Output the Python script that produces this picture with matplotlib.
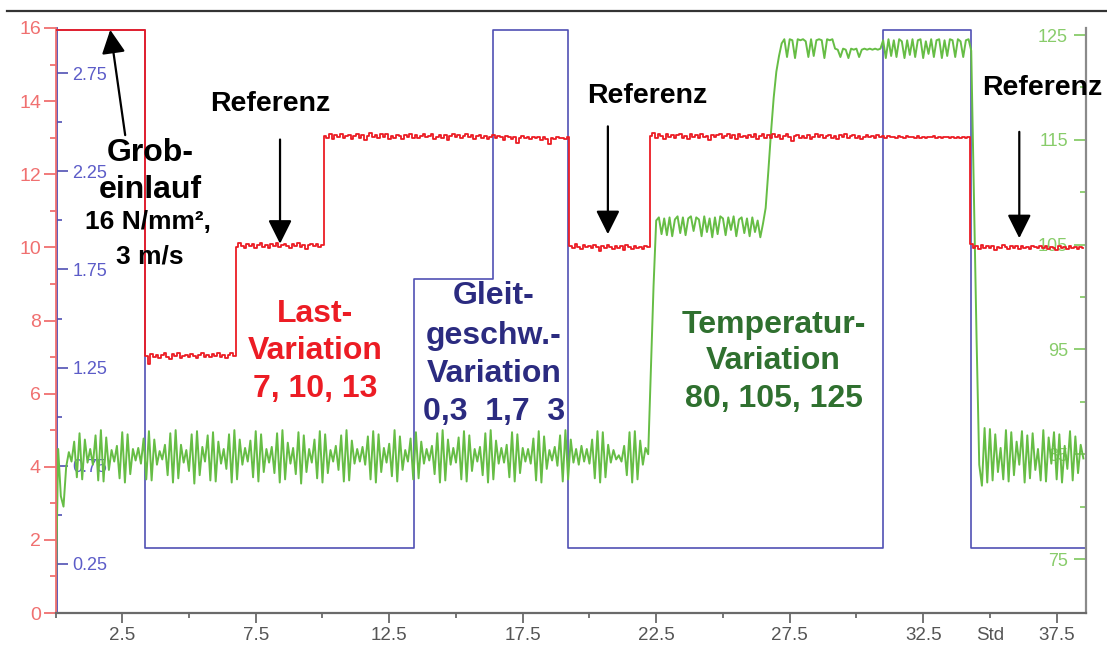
import numpy as np
import matplotlib
matplotlib.use("Agg")
import matplotlib.pyplot as plt
from matplotlib.lines import Line2D

# ---------------- data (time in hours, "Std") ----------------
# Load (red, left axis, N/mm²), sampled every 0.1 h from 0.0 to 38.5 h
load_step = 0.1
load_v = [
    15.95, 15.95, 15.95, 15.95, 15.95, 15.95, 15.95, 15.95, 15.95, 15.95,
    15.95, 15.95, 15.95, 15.95, 15.95, 15.95, 15.95, 15.95, 15.95, 15.95,
    15.95, 15.95, 15.95, 15.95, 15.95, 15.95, 15.95, 15.95, 15.95, 15.95,
    15.95, 15.95, 15.95, 15.95, 7.02, 6.82, 7.08, 7.0, 7.06, 6.98,
    7.05, 7.1, 7.0, 6.96, 7.08, 7.03, 7.11, 6.98, 7.04, 7.07,
    7.0, 7.09, 7.03, 6.97, 7.06, 7.1, 7.01, 7.05, 6.99, 7.08,
    7.04, 7.1, 7.0, 7.07, 6.98, 7.05, 7.12, 7.03, 10.02, 10.12,
    10.05, 9.98, 10.1, 10.04, 10.08, 9.99, 10.06, 10.13, 10.02, 10.07,
    9.97, 10.08, 10.05, 10.12, 10.0, 10.06, 10.1, 10.03, 9.98, 10.09,
    10.05, 10.11, 10.02, 10.07, 9.96, 10.06, 10.1, 10.04, 10.08, 10.0,
    10.06, 13.05, 13.0, 13.1, 12.96, 13.06, 13.02, 13.11, 12.98, 13.05,
    13.08, 12.97, 13.04, 13.1, 13.0, 13.07, 12.95, 13.05, 13.12, 13.01,
    13.06, 12.98, 13.09, 13.03, 13.1, 12.97, 13.05, 13.0, 13.08, 13.04,
    12.96, 13.07, 13.02, 13.11, 13.0, 13.06, 12.98, 13.04, 13.09, 13.01,
    13.05, 13.1, 12.97, 13.03, 13.08, 13.0, 13.06, 12.95, 13.04, 13.1,
    13.02, 13.07, 12.99, 13.05, 13.11, 13.01, 13.06, 12.97, 13.04, 13.08,
    13.0, 13.05, 12.96, 13.03, 13.08, 12.99, 13.04, 13.02, 12.94, 13.05,
    13.01, 12.97, 13.03, 12.85, 13.0, 13.04, 12.98, 13.02, 12.96, 13.03,
    12.99, 13.02, 12.95, 13.01, 12.97, 12.83, 13.0, 12.96, 13.02, 12.98,
    13.0, 12.97, 13.02, 10.05, 9.98, 10.08, 10.02, 9.95, 10.06, 10.0,
    10.04, 9.97, 10.07, 10.01, 9.9, 10.03, 9.98, 10.06, 10.0, 9.95,
    10.05, 9.99, 10.03, 9.92, 10.06, 10.0, 9.96, 10.04, 9.98, 10.02,
    9.96, 10.05, 10.0, 13.05, 13.12, 13.0, 13.09, 13.04, 12.97, 13.1,
    13.03, 13.08, 12.98, 13.06, 13.11, 13.0, 13.05, 12.96, 13.09, 13.02,
    13.07, 12.99, 13.1, 13.03, 13.05, 12.95, 13.08, 13.01, 13.06, 13.11,
    12.98, 13.04, 13.09, 13.0, 13.06, 12.97, 13.1, 13.02, 13.05, 12.99,
    13.08, 13.03, 13.11, 12.96, 13.05, 13.09, 13.0, 13.06, 12.98, 13.1,
    13.02, 13.07, 12.97, 13.05, 13.1, 13.01, 12.9, 13.04, 13.08, 12.99,
    13.05, 13.0, 13.07, 12.96, 13.03, 13.09, 13.01, 13.06, 12.98, 13.04,
    13.08, 13.0, 13.05, 12.97, 13.06, 13.02, 13.09, 12.98, 13.04, 13.07,
    13.0, 13.05, 12.97, 13.03, 13.08, 13.01, 13.04, 12.99, 13.06, 13.02,
    13.04, 12.98, 13.05, 13.01, 13.03, 12.99, 13.04, 13.02, 13.0, 13.05,
    13.01, 13.03, 12.98, 13.04, 13.0, 13.02, 12.99, 13.03, 13.01, 13.04,
    13.0, 13.02, 12.98, 13.03, 13.01, 12.99, 13.02, 13.0, 13.03, 12.99,
    13.02, 13.0, 13.01, 10.1, 9.98, 10.04, 9.95, 10.06, 9.99, 10.03,
    9.97, 10.05, 9.93, 10.02, 9.98, 10.06, 10.0, 9.96, 10.04, 9.99,
    10.03, 9.95, 10.05, 9.99, 10.02, 9.96, 10.04, 10.0, 9.97, 10.05,
    9.98, 10.03, 9.95, 10.02, 9.99, 9.93, 10.04, 9.97, 10.01, 9.96,
    10.03, 9.97, 10.02, 9.95, 10.0, 9.98,
]
load_t = np.arange(len(load_v)) * load_step

# Sliding speed (blue, inner left axis, m/s): step change points and levels
speed_t = [0.0, 3.35, 13.42, 16.40, 19.20, 30.98, 34.30, 38.58]
speed_v = [2.97, 0.33, 1.70, 2.97, 0.33, 2.97, 0.33, 0.33]

# Temperature (green, right axis, °C), sampled every 0.1 h from 0.0 to 38.5 h
temp_step = 0.1
temp_v = [
    70.0, 85.5, 81.0, 80.0, 83.8, 85.2, 84.3, 86.2, 82.8, 87.0,
    82.6, 86.4, 84.2, 85.5, 84.0, 86.8, 82.5, 87.3, 82.4, 86.6,
    83.5, 85.4, 84.3, 85.8, 82.7, 87.1, 82.3, 86.9, 83.1, 85.5,
    84.4, 85.6, 84.1, 86.5, 82.6, 87.2, 82.5, 86.4, 84.0, 85.3,
    84.5, 85.9, 83.0, 87.0, 82.3, 87.3, 82.7, 85.9, 84.2, 85.4,
    83.4, 86.9, 82.2, 87.2, 83.0, 85.7, 84.3, 86.8, 82.5, 87.1,
    82.4, 86.2, 84.1, 85.5, 83.6, 86.9, 82.3, 87.3, 82.6, 86.4,
    84.0, 85.6, 84.3, 86.3, 82.8, 87.2, 82.4, 86.9, 83.3, 85.5,
    84.2, 85.7, 83.2, 87.0, 82.3, 87.3, 82.6, 86.1, 84.1, 85.6,
    83.1, 87.1, 82.2, 86.8, 83.3, 85.5, 84.2, 86.4, 82.7, 87.2,
    82.3, 86.9, 83.2, 85.4, 84.3, 85.8, 83.5, 86.8, 82.4, 87.3,
    82.5, 86.3, 84.1, 85.5, 84.3, 85.7, 84.0, 86.7, 82.6, 87.2,
    82.3, 86.9, 83.3, 85.6, 84.2, 86.0, 82.9, 87.3, 82.4, 86.7,
    83.5, 85.4, 84.3, 86.5, 82.6, 87.1, 82.7, 86.2, 84.1, 85.5,
    84.4, 85.8, 83.1, 87.0, 82.3, 87.3, 82.5, 86.4, 84.0, 85.6,
    84.2, 86.6, 82.6, 87.2, 82.4, 86.8, 83.4, 85.5, 84.3, 85.7,
    83.0, 87.0, 82.3, 87.3, 82.6, 86.3, 84.1, 85.6, 84.2, 85.9,
    82.8, 87.1, 82.4, 86.9, 83.2, 85.6, 84.3, 85.5, 84.1, 86.5,
    82.5, 87.2, 82.3, 86.7, 83.6, 85.4, 84.4, 85.7, 83.9, 86.8,
    82.4, 87.3, 82.6, 86.4, 84.2, 85.5, 84.0, 85.8, 84.3, 85.5,
    84.1, 86.4, 82.7, 87.2, 82.3, 87.1, 82.8, 85.9, 84.2, 85.4,
    84.5, 84.9, 84.3, 85.8, 83.0, 87.1, 82.3, 87.2, 82.6, 86.3,
    84.0, 85.6, 85.0, 93.0, 101.0, 107.3, 107.6, 106.0, 107.5, 105.9,
    107.6, 105.8, 107.4, 107.7, 106.1, 107.6, 105.9, 107.5, 107.7, 106.3,
    107.6, 107.4, 105.8, 107.7, 106.2, 107.5, 105.7, 107.6, 106.0, 107.7,
    107.5, 105.9, 107.6, 106.4, 107.7, 105.8, 107.4, 107.6, 106.1, 107.5,
    105.8, 107.6, 106.2, 107.3, 105.7, 107.0, 108.5, 112.0, 115.7, 119.0,
    121.5, 123.0, 124.2, 124.6, 122.9, 124.6, 124.5, 122.8, 124.6, 124.5,
    124.6, 124.4, 122.9, 124.6, 123.0, 124.5, 124.6, 124.5, 122.8, 124.6,
    124.5, 124.6, 123.7, 123.6, 122.9, 123.7, 123.6, 122.8, 123.7, 123.6,
    123.7, 122.9, 123.6, 123.7, 123.6, 123.7, 123.6, 123.7, 123.6, 123.7,
    124.5, 122.8, 124.6, 123.0, 124.5, 122.9, 124.6, 124.4, 122.8, 124.5,
    123.1, 124.6, 122.9, 124.5, 124.6, 122.8, 124.4, 123.2, 124.6, 122.9,
    124.5, 124.6, 122.8, 124.5, 123.0, 124.6, 124.5, 122.9, 124.6, 124.4,
    122.9, 124.5, 124.6, 123.5, 110.0, 96.0, 84.0, 82.0, 87.5, 82.3,
    87.4, 82.5, 86.9, 83.3, 85.6, 82.6, 87.3, 82.4, 87.1, 83.0,
    86.2, 84.0, 87.2, 82.3, 86.8, 82.7, 87.0, 83.5, 85.5, 82.5,
    87.3, 82.4, 86.6, 84.1, 87.1, 82.6, 86.9, 82.3, 85.8, 83.6,
    87.2, 82.5, 86.7, 83.2, 85.9, 84.6,
]
temp_t = np.arange(len(temp_v)) * temp_step

# axis ticks
x_major = [2.5, 7.5, 12.5, 17.5, 22.5, 27.5, 32.5, 37.5]
x_minor = [0, 5, 10, 15, 20, 25, 30, 35]
x_minor_labels = ["", "", "", "", "", "", "", "Std"]
load_major = [0, 2, 4, 6, 8, 10, 12, 14, 16]
load_minor = [1, 3, 5, 7, 9, 11, 13, 15]
speed_major = [0.25, 0.75, 1.25, 1.75, 2.25, 2.75]
speed_minor = [0.5, 1.0, 1.5, 2.0, 2.5]
temp_major = [75, 85, 95, 105, 115, 125]
temp_minor = [80, 90, 100, 110, 120]

# ---------------- style ----------------
RED = "#ec1c24"
RED_AX = "#f07070"
BLUE = "#5050b4"
BLUE_AX = "#5c5cc8"
GREEN = "#66bd45"
GREEN_AX = "#88cc6a"
NAVY = "#2b2b80"
DKGREEN = "#2f702f"
GREY = "#6a6a6a"
FONT = ["Liberation Sans", "DejaVu Sans"]
plt.rcParams["font.family"] = FONT

fig = plt.figure(figsize=(11.07, 6.48), dpi=100)
fig.patch.set_facecolor("white")
L, B, W, H = 55.5 / 1107, 35 / 648, 1030 / 1107, 585 / 648

ax_b = fig.add_axes([L, B, W, H])
ax_g = fig.add_axes([L, B, W, H], sharex=ax_b)
ax_r = fig.add_axes([L, B, W, H], sharex=ax_b)
for a in (ax_b, ax_g, ax_r):
    a.set_facecolor("none")
    for s in a.spines.values():
        s.set_visible(False)

XMAX = 38.58
ax_r.set_xlim(0, XMAX)

# ---- blue speed ----
ax_b.plot(speed_t, speed_v, drawstyle="steps-post", color=BLUE, lw=1.2, zorder=3)
ax_b.set_ylim(0, 2.98)
ax_b.xaxis.set_visible(False)
ax_b.yaxis.tick_left()
ax_b.spines["left"].set_visible(True)
ax_b.spines["left"].set_color(BLUE)
ax_b.spines["left"].set_linewidth(1.3)
ax_b.spines["left"].set_position(("outward", -1.2))
ax_b.set_yticks(speed_major)
ax_b.set_yticks(speed_minor, minor=True)
ax_b.set_yticklabels([f"{v:.2f}" for v in speed_major])
ax_b.tick_params(axis="y", which="major", direction="in", length=8, width=1.2,
                 color=BLUE, labelcolor=BLUE_AX, labelsize=13, pad=-11)
ax_b.tick_params(axis="y", which="minor", direction="in", length=3.5, width=1.2,
                 color=BLUE)
for lab in ax_b.get_yticklabels():
    lab.set_horizontalalignment("left")

# ---- green temperature ----
ax_g.plot(temp_t, temp_v, color=GREEN, lw=1.4, zorder=3)
ax_g.set_ylim(69.85, 125.67)
ax_g.xaxis.set_visible(False)
ax_g.yaxis.tick_right()
ax_g.spines["right"].set_visible(True)
ax_g.spines["right"].set_color("#8a8a8a")
ax_g.spines["right"].set_linewidth(1.6)
ax_g.set_yticks(temp_major)
ax_g.set_yticks(temp_minor, minor=True)
ax_g.tick_params(axis="y", which="major", direction="in", length=8.5, width=1.3,
                 color=GREEN_AX, labelcolor=GREEN_AX, labelsize=13, pad=-12.6)
ax_g.tick_params(axis="y", which="minor", direction="in", length=4.5, width=1.3,
                 color=GREEN_AX)
for lab in ax_g.get_yticklabels():
    lab.set_horizontalalignment("right")

# ---- red load + x axis ----
ax_r.plot(load_t, load_v, drawstyle="steps-mid", color=RED, lw=1.3, zorder=3)
ax_r.set_ylim(0, 16)
ax_r.spines["left"].set_visible(True)
ax_r.spines["left"].set_color(RED_AX)
ax_r.spines["left"].set_linewidth(1.3)
ax_r.spines["bottom"].set_visible(True)
ax_r.spines["bottom"].set_color(GREY)
ax_r.spines["bottom"].set_linewidth(1.6)
ax_r.set_yticks(load_major)
ax_r.set_yticks(load_minor, minor=True)
ax_r.tick_params(axis="y", which="major", direction="out", length=8.5, width=1.3,
                 color=RED_AX, labelcolor=RED_AX, labelsize=14, pad=2)
ax_r.tick_params(axis="y", which="minor", direction="out", length=4.3, width=1.3,
                 color=RED_AX)
ax_r.set_xticks(x_major)
ax_r.set_xticklabels([str(v) for v in x_major])
ax_r.set_xticks(x_minor, minor=True)
ax_r.set_xticklabels(x_minor_labels, minor=True)
ax_r.tick_params(axis="x", which="major", direction="out", length=7.2, width=1.3,
                 color=GREY, labelcolor="#555555", labelsize=13.5, pad=3)
ax_r.tick_params(axis="x", which="minor", direction="out", length=3.6, width=1.3,
                 color=GREY, labelcolor="#555555", labelsize=13.5, pad=6.6)

# ---------------- annotations (red axis data coords) ----------------
bold = dict(fontweight="bold", ha="center", va="center", family=FONT)
ax_r.text(3.55, 12.58, "Grob-", fontsize=23, color="black", **bold)
ax_r.text(3.55, 11.57, "einlauf", fontsize=23, color="black", **bold)
ax_r.text(3.45, 10.69, "16 N/mm²,", fontsize=19, color="black", **bold)
ax_r.text(3.55, 9.74, "3 m/s", fontsize=19, color="black", **bold)

ax_r.text(8.04, 13.93, "Referenz", fontsize=20.5, color="black", **bold)
ax_r.text(22.18, 14.15, "Referenz", fontsize=20.5, color="black", **bold)
ax_r.text(36.95, 14.36, "Referenz", fontsize=20.5, color="black", clip_on=False, **bold)

arrow = dict(arrowstyle="-|>,head_length=0.72,head_width=0.36", color="black",
             lw=1.6, mutation_scale=20, shrinkA=0, shrinkB=0)
ax_r.annotate("", xy=(2.05, 15.95), xytext=(2.61, 13.07), arrowprops=arrow)
ax_r.annotate("", xy=(8.41, 10.10), xytext=(8.41, 12.95), arrowprops=arrow)
ax_r.annotate("", xy=(20.69, 10.36), xytext=(20.69, 13.31), arrowprops=arrow)
ax_r.annotate("", xy=(36.10, 10.25), xytext=(36.10, 13.16), arrowprops=arrow)

for y, s in zip([8.19, 7.16, 6.12], ["Last-", "Variation", "7, 10, 13"]):
    ax_r.text(9.71, y, s, fontsize=23, color=RED, **bold)
for y, s in zip([8.66, 7.57, 6.54, 5.50], ["Gleit-", "geschw.-", "Variation", "0,3  1,7  3"]):
    ax_r.text(16.42, y, s, fontsize=23, color=NAVY, **bold)
for y, s in zip([7.88, 6.90, 5.86], ["Temperatur-", "Variation", "80, 105, 125"]):
    ax_r.text(26.9, y, s, fontsize=23, color=DKGREEN, **bold)

# top rule of the figure
fig.add_artist(Line2D([7 / 1107, 1.0], [1 - 11 / 648, 1 - 11 / 648],
                      transform=fig.transFigure, color="#333333", lw=1.6))

fig.savefig("out.png", dpi=100, facecolor="white")
